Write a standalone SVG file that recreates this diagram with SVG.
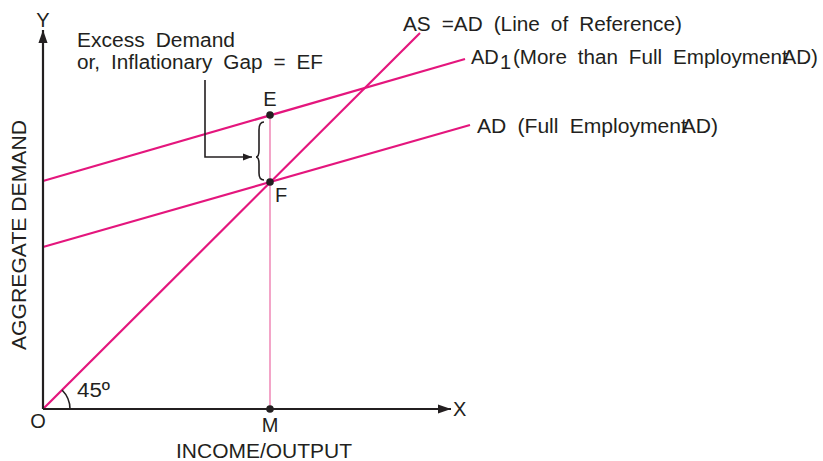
<svg xmlns="http://www.w3.org/2000/svg" width="823" height="461" viewBox="0 0 823 461">
<style>
text{font-family:"Liberation Sans",Arial,sans-serif;fill:#231f20;font-size:20px}
.ws{word-spacing:5px}
.ax{stroke:#231f20;stroke-width:2.2;fill:none}
.mg{stroke:#e4167d;stroke-width:2.2;fill:none}
.pk{stroke:#f29bc2;stroke-width:1.8;fill:none}
.blk{stroke:#231f20;stroke-width:1.6;fill:none}
</style>
<defs>
<marker id="ah" viewBox="0 0 10 10" refX="10" refY="5" markerWidth="9" markerHeight="9" markerUnits="userSpaceOnUse" orient="auto">
<path d="M0,1 L10,5 L0,9 Z" fill="#231f20"/>
</marker>
<marker id="axh" viewBox="0 0 10 10" refX="10" refY="5" markerWidth="13" markerHeight="13" markerUnits="userSpaceOnUse" orient="auto">
<path d="M0,1.5 L10,5 L0,8.5 Z" fill="#231f20"/>
</marker>
</defs>
<rect width="823" height="461" fill="#ffffff"/>
<g id="connectors">
<line id="ad1-line" class="mg" x1="43" y1="181" x2="465" y2="59"/>
<line id="ad-line" class="mg" x1="43" y1="247" x2="470" y2="125"/>
<line id="as-line" class="mg" x1="43" y1="409" x2="420" y2="33"/>
<line id="em-line" class="pk" x1="270" y1="115" x2="270" y2="409"/>
<path id="gap-arrow" class="blk" d="M205,80 V157 H252" marker-end="url(#ah)"/>
<path id="brace" class="blk" d="M264,122 Q259,122 259,130 V150 Q259,157 256,157 Q259,157 259,164 V173 Q259,180 264,180"/>
<path id="angle" class="blk" d="M62,390 A27,27 0 0 1 70,409"/>
</g>
<g id="axes">
<line id="y-axis" class="ax" x1="43" y1="409" x2="43" y2="30" marker-end="url(#axh)"/>
<line id="x-axis" class="ax" x1="43" y1="409" x2="451" y2="409" marker-end="url(#axh)"/>
<text x="43" y="27" text-anchor="middle">Y</text>
<text x="453" y="416">X</text>
<text x="38" y="428" text-anchor="middle">O</text>
<text x="77" y="397" textLength="33" lengthAdjust="spacingAndGlyphs">45º</text>
<text x="176" y="458" textLength="176" lengthAdjust="spacingAndGlyphs">INCOME/OUTPUT</text>
<text transform="translate(26,235) rotate(-90)" text-anchor="middle" textLength="230" lengthAdjust="spacingAndGlyphs">AGGREGATE DEMAND</text>
</g>
<g id="node-E">
<circle cx="270" cy="115" r="3.8" fill="#231f20"/>
<text x="270" y="106" text-anchor="middle">E</text>
</g>
<g id="node-F">
<circle cx="270" cy="182" r="3.8" fill="#231f20"/>
<text x="275" y="202">F</text>
</g>
<g id="node-M">
<circle cx="270" cy="409" r="3.8" fill="#231f20"/>
<text x="270" y="432" text-anchor="middle">M</text>
</g>
<g id="gap-label">
<text class="ws" x="77" y="47" textLength="158" lengthAdjust="spacingAndGlyphs">Excess Demand</text>
<text class="ws" x="77" y="69" textLength="246" lengthAdjust="spacingAndGlyphs">or, Inflationary Gap = EF</text>
</g>
<g id="label-as">
<text class="ws" x="403" y="31" textLength="279" lengthAdjust="spacingAndGlyphs">AS =AD (Line of Reference)</text>
</g>
<g id="label-ad1">
<text x="471" y="64">AD</text>
<text x="500" y="69" font-size="14">1</text>
<text class="ws" x="513" y="64" textLength="305" lengthAdjust="spacingAndGlyphs">(More than Full Employment<tspan dx="-5">AD)</tspan></text>
</g>
<g id="label-ad">
<text class="ws" x="477" y="133" textLength="241" lengthAdjust="spacingAndGlyphs">AD (Full Employment<tspan dx="-5">AD)</tspan></text>
</g>
</svg>
